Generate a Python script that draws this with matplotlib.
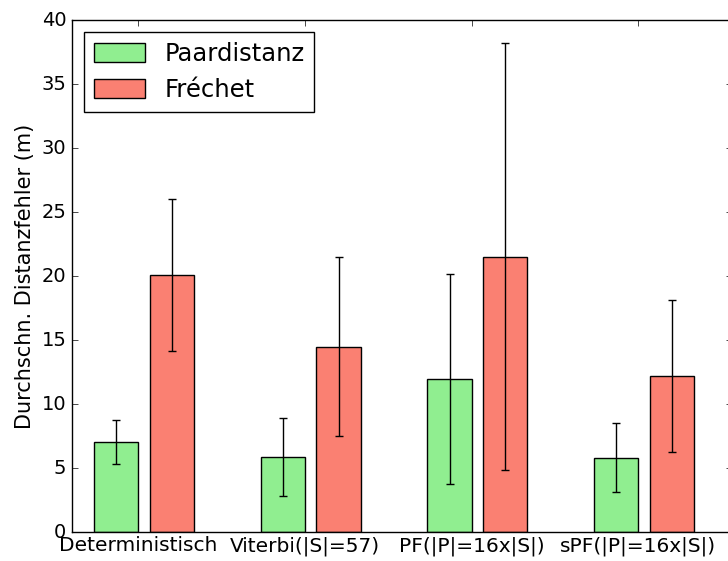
import matplotlib
matplotlib.use("Agg")
import matplotlib.pyplot as plt
import numpy as np

plt.style.use("classic")

categories = ["Deterministisch", "Viterbi(|S|=57)", "PF(|P|=16x|S|)", "sPF(|P|=16x|S|)"]
paar_values = [7.02, 5.88, 11.93, 5.82]
paar_errors = [1.72, 3.05, 8.2, 2.72]
frechet_values = [20.08, 14.48, 21.52, 12.19]
frechet_errors = [5.93, 6.98, 16.65, 5.97]
series_labels = ["Paardistanz", "Fréchet"]
yticks = [0, 5, 10, 15, 20, 25, 30, 35, 40]

W, H = 728, 561
fig = plt.figure(figsize=(W / 100, H / 100), dpi=100, facecolor="white")
ax = fig.add_axes([72 / W, (H - 532) / H, (732 - 72) / W, (532 - 20) / H])
ax.set_facecolor("white")

ind = np.arange(len(categories))
width = 0.266
offset = 0.334

ax.bar(ind, paar_values, width, align="edge", color="#90EE90", edgecolor="black",
       linewidth=1.0, yerr=paar_errors, ecolor="black", capsize=3,
       error_kw=dict(elinewidth=1.0, capthick=1.0), label=series_labels[0])
ax.bar(ind + offset, frechet_values, width, align="edge", color="#FA8072", edgecolor="black",
       linewidth=1.0, yerr=frechet_errors, ecolor="black", capsize=3,
       error_kw=dict(elinewidth=1.0, capthick=1.0), label=series_labels[1])

ax.set_xlim(-0.132, 3.827)
ax.set_ylim(0, 40)
ax.set_yticks(yticks)
ax.set_xticks(ind + width)
ax.set_xticklabels(categories, fontsize=14.5)
ax.tick_params(axis="y", labelsize=14)
ax.tick_params(axis="x", pad=3)
ax.set_ylabel("Durchschn. Distanzfehler (m)", fontsize=15)

leg = ax.legend(loc="upper left", fontsize=17.5, frameon=True, handlelength=2.1, handleheight=0.8)
leg.get_frame().set_edgecolor("black")

fig.savefig("out.png", dpi=100, facecolor="white")
